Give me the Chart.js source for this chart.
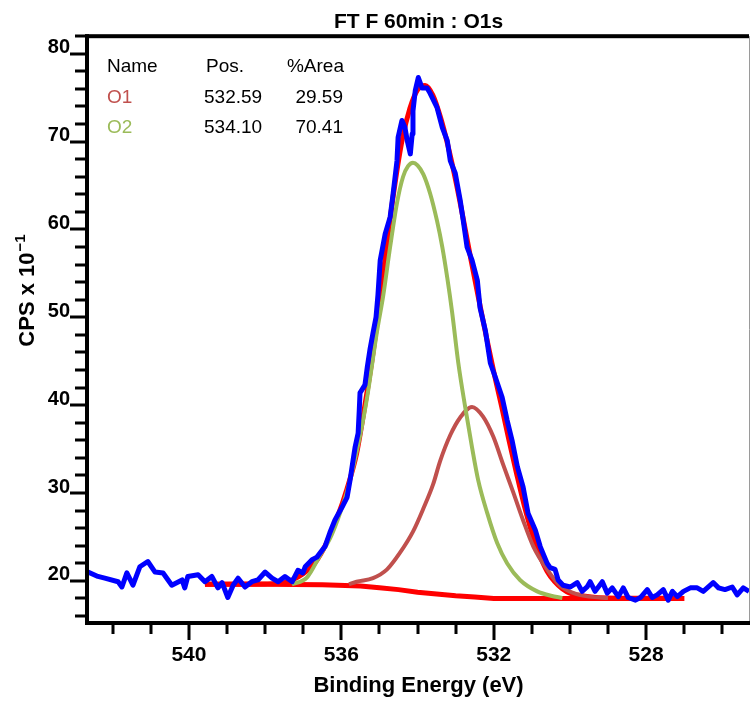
<!DOCTYPE html>
<html><head><meta charset="utf-8">
<script src="https://cdn.jsdelivr.net/npm/chart.js@4.4.0/dist/chart.umd.min.js"></script>
<style>html,body{margin:0;padding:0;background:#fff;}#wrap{width:752px;height:702px;}</style>
</head><body><div id="wrap"><canvas id="c" width="752" height="702"></canvas></div>
<script>
// ---- text ----
const chartTitle = 'FT F 60min : O1s';
const xAxisTitle = 'Binding Energy (eV)';
const yAxisTitle = 'CPS x 10';
const yAxisExponent = '\u22121';
const xTickLabels = [540, 536, 532, 528];
const yTickLabels = [20, 30, 40, 50, 60, 70, 80];
const tableHeaders = ['Name', 'Pos.', '%Area'];
const componentNames = ['O1', 'O2'];
const componentPositions = ['532.59', '534.10'];
const componentAreas = ['29.59', '70.41'];

// ---- measured spectrum (blue) ----
const rawEnergy = [542.65,542.39,542.21,541.86,541.76,541.63,541.47,541.29,541.08,540.89,540.68,540.45,540.18,540.11,540.03,539.76,539.58,539.40,539.24,539.13,538.98,538.84,538.71,538.53,538.35,538.19,538.00,537.82,537.66,537.48,537.29,537.14,537.01,536.95,536.77,536.64,536.43,536.30,536.17,535.98,535.85,535.77,535.69,535.64,535.56,535.53,535.51,535.38,535.32,535.25,535.17,535.09,535.04,534.98,534.85,534.72,534.64,534.54,534.51,534.41,534.33,534.27,534.19,534.14,534.12,534.06,533.98,533.88,533.75,533.67,533.49,533.35,533.22,533.14,533.01,532.88,532.80,532.70,532.57,532.43,532.36,532.22,532.09,531.96,531.78,531.65,531.52,531.38,531.23,531.10,530.91,530.78,530.60,530.52,530.39,530.31,530.18,529.99,529.81,529.68,529.55,529.47,529.34,529.15,529.02,528.89,528.73,528.60,528.47,528.28,528.15,527.97,527.84,527.71,527.55,527.42,527.31,527.18,527.02,526.84,526.66,526.50,526.24,526.10,525.93,525.74,525.61,525.45,525.30];
const rawCps = [21.0,20.5,20.3,19.9,19.3,20.9,19.5,21.6,22.2,21.0,20.9,19.5,20.1,19.2,20.5,20.7,19.9,20.5,19.2,19.8,18.1,19.5,20.3,19.3,19.9,20.1,21.0,20.3,19.9,20.5,19.9,21.2,20.9,21.6,22.4,22.7,23.9,25.5,26.9,28.4,29.5,31.5,33.8,35.2,36.8,39.4,41.4,42.3,44.3,46.3,48.2,50.0,52.5,56.5,59.5,61.4,64.1,67.8,70.5,72.4,71.6,70.1,68.6,70.9,73.5,75.8,77.3,76.1,76.1,75.5,73.9,71.6,70.1,67.8,66.4,63.3,61.0,58.0,56.5,54.2,51.1,48.5,44.8,43.2,40.9,38.3,36.0,33.0,30.7,27.7,25.8,23.9,22.0,21.5,21.3,20.1,19.5,19.3,19.8,18.8,19.3,19.9,18.8,19.9,18.6,19.2,18.2,19.2,18.1,17.8,18.1,19.0,18.1,18.4,19.0,17.8,18.8,18.2,18.8,19.2,19.2,18.8,19.8,19.2,19.0,19.3,18.4,19.2,18.8];

// ---- fit envelope (red) ----
const envelopeEnergy = [539.58,538.0,537.5,537.0,536.7,536.4,536.1,535.85,535.6,535.4,535.2,535.0,534.8,534.6,534.4,534.2,534.0,533.8,533.6,533.4,533.2,533.0,532.8,532.6,532.4,532.2,532.0,531.8,531.6,531.4,531.2,531.0,530.8,530.6,530.4,530.2,530.0,529.5,529.0,527.0];
const envelopeCps = [19.6,19.65,19.8,20.8,22.0,24.2,27.3,30.5,34.5,39.5,45.0,51.5,58.5,65.0,70.3,73.8,75.9,76.4,75.3,72.8,69.5,65.6,61.2,56.6,52.2,47.9,43.8,40.0,36.0,32.2,28.6,25.5,23.0,21.1,19.9,19.1,18.6,18.2,18.05,18.0];

// ---- background (red) ----
const backgroundEnergy = [539.58,538.0,536.5,535.5,535.0,534.5,534.0,533.5,533.0,532.5,532.0,531.0,527.0];
const backgroundCps = [19.6,19.6,19.55,19.4,19.2,19.0,18.7,18.5,18.3,18.15,18.0,18.0,18.0];

// ---- component O1 (brown) ----
const o1Energy = [535.8,535.6,535.17,534.80,534.46,534.12,533.85,533.59,533.41,533.14,532.88,532.57,532.28,532.01,531.75,531.49,531.23,530.96,530.60,530.25,529.9,529.5,529.0];
const o1Cps = [19.6,19.9,20.3,21.3,23.2,25.6,28.2,31.0,33.6,36.6,38.6,39.8,38.7,36.4,33.2,30.1,26.9,23.9,21.3,19.4,18.6,18.2,18.05];

// ---- component O2 (green) ----
const o2Energy = [537.3,536.9,536.56,536.3,536.11,535.85,535.51,535.32,535.06,534.90,534.72,534.54,534.38,534.25,534.12,534.0,533.85,533.67,533.49,533.35,533.22,533.09,532.93,532.75,532.57,532.41,532.17,531.91,531.65,531.31,530.86,530.5,530.2];
const o2Cps = [19.6,20.4,22.9,24.8,26.8,30.2,36.5,41.0,48.5,52.5,58.0,63.0,66.0,67.2,67.6,67.3,66.3,64.1,61.0,58.0,54.5,50.5,44.8,39.8,35.2,31.5,27.7,24.3,22.0,20.1,18.8,18.3,18.05];

const pts = (xs, ys) => xs.map((v, i) => ({x: v, y: ys[i]}));
const FONT = "'Liberation Sans', Arial, sans-serif";
const O1_COLOR = '#c0504d';
const O2_COLOR = '#9bbb59';

const framePlugin = {
  id: 'frame',
  afterDatasetsDraw(chart) {
    const {ctx, chartArea: a, scales: {x, y}} = chart;
    ctx.save();
    ctx.strokeStyle = '#9a9a9a'; ctx.lineWidth = 1;
    ctx.beginPath(); ctx.moveTo(a.right + 0.5, a.top); ctx.lineTo(a.right + 0.5, a.bottom); ctx.stroke();
    ctx.fillStyle = '#000';
    ctx.fillRect(a.left - 3, a.top - 2, a.right - a.left + 3, 4);
    ctx.fillRect(a.left - 3, a.top - 2, 4, a.bottom - a.top + 4);
    ctx.fillRect(a.left - 3, a.bottom - 2, a.right - a.left + 4, 4);
    for (let v = Math.ceil(x.min); v <= Math.floor(x.max); v++) {
      const px = Math.round(x.getPixelForValue(v));
      const major = xTickLabels.includes(v);
      ctx.fillRect(px - 1.5, a.bottom + 2, 3, major ? 15 : 9);
    }
    for (let v = Math.ceil(y.min / 2) * 2; v <= y.max + 0.2; v += 2) {
      const py = Math.round(y.getPixelForValue(v));
      const major = v % 10 === 0;
      const len = major ? 15 : 10;
      ctx.fillRect(a.left - 3 - len, py - 1.5, len, 3);
    }
    // y-axis title with exponent
    ctx.translate(28, 291);
    ctx.rotate(-Math.PI / 2);
    ctx.font = 'bold 22px ' + FONT;
    const w1 = ctx.measureText(yAxisTitle).width;
    ctx.font = 'bold 15px ' + FONT;
    const w2 = ctx.measureText(yAxisExponent).width;
    const start = -(w1 + w2) / 2;
    ctx.textBaseline = 'middle'; ctx.textAlign = 'left';
    ctx.font = 'bold 22px ' + FONT;
    ctx.fillText(yAxisTitle, start, 0);
    ctx.font = 'bold 15px ' + FONT;
    ctx.fillText(yAxisExponent, start + w1 + 1, -7);
    ctx.restore();

    // component table
    ctx.save();
    ctx.font = '19px ' + FONT;
    ctx.textBaseline = 'middle';
    ctx.fillStyle = '#000';
    ctx.textAlign = 'left';
    ctx.fillText(tableHeaders[0], 107, 67);
    ctx.fillText(tableHeaders[1], 206, 67);
    ctx.textAlign = 'right';
    ctx.fillText(tableHeaders[2], 344, 67);
    const rowY = [98, 128];
    const rowColors = [O1_COLOR, O2_COLOR];
    componentNames.forEach((n, i) => {
      ctx.textAlign = 'left';
      ctx.fillStyle = rowColors[i];
      ctx.fillText(n, 107, rowY[i]);
      ctx.fillStyle = '#000';
      ctx.fillText(componentPositions[i], 204, rowY[i]);
      ctx.textAlign = 'right';
      ctx.fillText(componentAreas[i], 343, rowY[i]);
    });
    ctx.restore();
  }
};

new Chart(document.getElementById('c'), {
  type: 'line',
  data: {
    datasets: [
      {label: 'Data', data: pts(rawEnergy, rawCps), borderColor: '#0000ff', borderWidth: 5, pointRadius: 0, tension: 0, borderJoinStyle: 'round'},
      {label: 'O2', data: pts(o2Energy, o2Cps), borderColor: O2_COLOR, borderWidth: 4, pointRadius: 0, cubicInterpolationMode: 'monotone'},
      {label: 'O1', data: pts(o1Energy, o1Cps), borderColor: O1_COLOR, borderWidth: 4, pointRadius: 0, cubicInterpolationMode: 'monotone'},
      {label: 'Envelope', data: pts(envelopeEnergy, envelopeCps), borderColor: '#ff0000', borderWidth: 5, pointRadius: 0, cubicInterpolationMode: 'monotone'},
      {label: 'Background', data: pts(backgroundEnergy, backgroundCps), borderColor: '#ff0000', borderWidth: 5, pointRadius: 0, tension: 0}
    ]
  },
  options: {
    responsive: false,
    animation: false,
    devicePixelRatio: 1,
    layout: {padding: {left: 0, right: 3, top: 0, bottom: 0}},
    plugins: {
      legend: {display: false},
      tooltip: {enabled: false},
      title: {display: true, text: chartTitle, fullSize: false, color: '#000',
        font: {family: FONT, size: 21, weight: 'bold'}, padding: {top: 10, bottom: 1}}
    },
    scales: {
      x: {
        type: 'linear', reverse: true, min: 525.3, max: 542.65,
        afterFit: s => { s.height = 79; },
        afterBuildTicks: s => { s.ticks = xTickLabels.map(v => ({value: v})); },
        grid: {display: false, drawTicks: false},
        border: {display: false},
        ticks: {color: '#000', padding: 20, maxRotation: 0, autoSkip: false,
          font: {family: FONT, size: 21, weight: 'bold'}, callback: v => String(v)},
        title: {display: true, text: xAxisTitle, color: '#000',
          font: {family: FONT, size: 22, weight: 'bold'}, padding: {top: 0, bottom: 3}}
      },
      y: {
        type: 'linear', min: 15.2, max: 82,
        afterFit: s => { s.width = 88; },
        afterBuildTicks: s => { s.ticks = yTickLabels.map(v => ({value: v})); },
        grid: {display: false, drawTicks: false},
        border: {display: false},
        ticks: {color: '#000', padding: 18, labelOffset: -6, autoSkip: false,
          font: {family: FONT, size: 20, weight: 'bold'}, callback: v => String(v)}
      }
    }
  },
  plugins: [framePlugin]
});
</script>
</body></html>
